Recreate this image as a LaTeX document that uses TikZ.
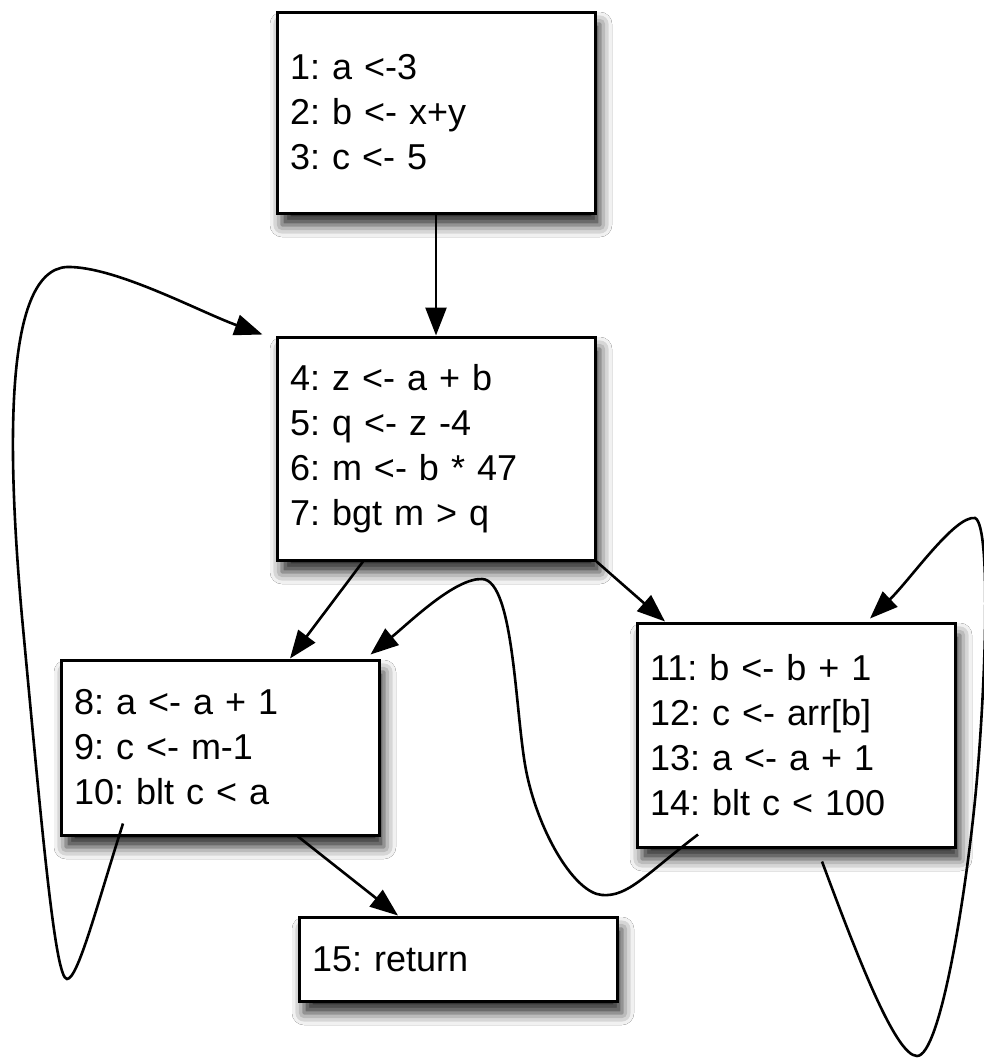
\documentclass[tikz,border=0pt]{standalone}
\usepackage{fontspec}
\setmainfont{Liberation Sans}
\usetikzlibrary{arrows.meta,calc,shadows.blur}
\frenchspacing

\begin{document}
\begin{tikzpicture}[x=0.5pt, y=-0.5pt,
  block/.style={rectangle, draw=black, line width=1.5pt, fill=white, inner xsep=6.5pt, inner ysep=0pt, text width=146pt, align=left, font=\fontsize{18}{22.5}\selectfont, blur shadow={shadow xshift=2.5pt, shadow yshift=-6pt, shadow blur radius=6pt, shadow opacity=85}},
  flow/.style={line width=1.3pt, -{Triangle[length=14pt, width=10.5pt]}}]
\path[use as bounding box, fill=white] (0,0) rectangle (984,1060);
\node [block, minimum height=100.5pt] (b1) at (436,112.5) {1: a <-3\\2: b <- x+y\\3: c <- 5};
\node [block, minimum height=111.5pt] (b2) at (436,448.5) {4: z <- a + b\\5: q <- z -4\\6: m <- b * 47\\7: bgt m > q};
\node [block, minimum height=87.5pt] (b3) at (220,747.5) {8: a <- a + 1\\9: c <- m-1\\10: blt c < a};
\node [block, minimum height=112pt] (b4) at (796,735) {11: b <- b + 1\\12: c <- arr[b]\\13: a <- a + 1\\14: blt c < 100};
\node [block, minimum height=42pt] (b5) at (458,959) {15: return};
\draw [flow] (b1) -- (b2);
\draw [flow] ($(b2.south)+(-73,0)$) -- ($(b3.north)+(70,0)$);
\draw [flow] (b2.south east) -- ($(b4.north)+(-131,0)$);
\draw [flow] ($(b3.south)+(78,0)$) -- ($(b5.north)+(-60,0)$);
\draw [flow] ($(b3.south)+(-97,-13)$) .. controls (97,905) and (78,979) .. (67,979)
  .. controls (55,979) and (42,830) .. (22,617)
  .. controls (8,460) and (2,270) .. (67,267)
  .. controls (115,266) and (200,312) .. ($(b2.north west)+(-13,-1)$);
\draw [flow] ($(b4.south)+(-98,-14)$) .. controls (645,875) and (628,897) .. (602,895)
  .. controls (575,893) and (540,835) .. (527,775)
  .. controls (515,720) and (515,580) .. (482,579)
  .. controls (455,578) and (410,622) .. ($(b3.north east)+(-10,-4)$);
\draw [flow] ($(b4.south)+(26,13)$) .. controls (855,950) and (895,1056) .. (917,1056)
  .. controls (940,1056) and (965,900) .. (975,800)
  .. controls (985,700) and (992,525) .. (975,518)
  .. controls (955,515) and (910,580) .. ($(b4.north)+(74,-3)$);
\end{tikzpicture}
\end{document}
